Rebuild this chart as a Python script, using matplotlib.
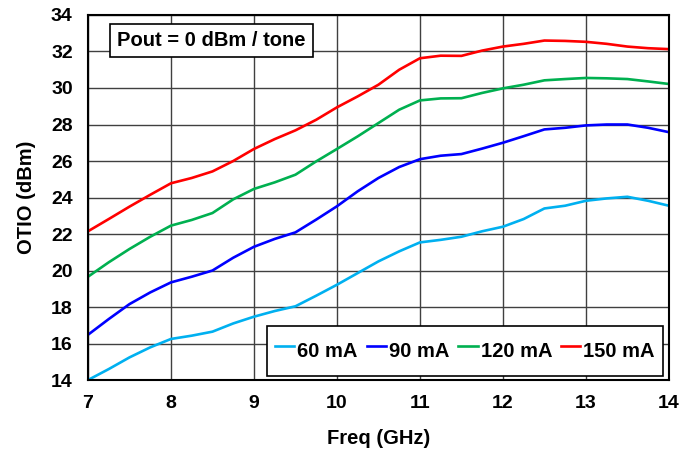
import matplotlib
matplotlib.use("Agg")
import matplotlib.pyplot as plt
import numpy as np

plt.rcParams['font.family'] = ['Liberation Sans', 'DejaVu Sans']
plt.rcParams['font.weight'] = 'bold'

# values, every 0.25 GHz
freq = np.arange(7, 14.01, 0.25)
otio_60 = [14.0, 14.6, 15.24, 15.79, 16.25, 16.43, 16.65, 17.1, 17.47, 17.78, 18.04, 18.62,
           19.22, 19.86, 20.5, 21.05, 21.54, 21.68, 21.85, 22.15, 22.4, 22.82, 23.4, 23.55,
           23.82, 23.95, 24.04, 23.82, 23.55]
otio_90 = [16.48, 17.34, 18.16, 18.8, 19.35, 19.66, 20.0, 20.7, 21.3, 21.73, 22.09, 22.79,
           23.52, 24.34, 25.07, 25.67, 26.1, 26.29, 26.38, 26.68, 27.0, 27.36, 27.73, 27.82,
           27.95, 28.0, 28.0, 27.82, 27.58]
otio_120 = [19.66, 20.45, 21.18, 21.85, 22.46, 22.77, 23.15, 23.9, 24.47, 24.83, 25.25, 25.98,
            26.66, 27.35, 28.08, 28.81, 29.32, 29.43, 29.44, 29.73, 29.98, 30.18, 30.42, 30.49,
            30.55, 30.53, 30.49, 30.36, 30.22]
otio_150 = [22.15, 22.82, 23.5, 24.15, 24.78, 25.07, 25.43, 26.0, 26.66, 27.2, 27.68, 28.26,
            28.94, 29.54, 30.18, 31.0, 31.63, 31.77, 31.76, 32.05, 32.27, 32.42, 32.6, 32.58,
            32.53, 32.42, 32.27, 32.18, 32.13]

labels = ['60 mA', '90 mA', '120 mA', '150 mA']
colors = ['#00B0F0', '#0000FF', '#00B050', '#FF0000']

fig = plt.figure(figsize=(6.99, 4.53), dpi=100)
ax = fig.add_axes([0.1259, 0.1611, 0.831, 0.8058])

for y, lab, c in zip([otio_60, otio_90, otio_120, otio_150], labels, colors):
    ax.plot(freq, y, color=c, linewidth=1.9, label=lab)

ax.set_xlim(7, 14)
ax.set_ylim(14, 34)
ax.set_xticks(np.arange(7, 15, 1))
ax.set_yticks(np.arange(14, 35, 2))
ax.grid(True, color='#404040', linewidth=1)
ax.set_axisbelow(True)
for s in ax.spines.values():
    s.set_linewidth(1.5)
    s.set_color('black')
ax.tick_params(length=0, labelsize=14, pad=11)
ax.set_xlabel('Freq (GHz)', fontsize=14.5, fontweight='bold', labelpad=12)
ax.set_ylabel('OTIO (dBm)', fontsize=14.5, fontweight='bold', labelpad=11)

ax.text(0.05, 0.93, 'Pout = 0 dBm / tone', transform=ax.transAxes, fontsize=14.5,
        fontweight='bold', va='center', ha='left',
        bbox=dict(boxstyle='square,pad=0.35', facecolor='white', edgecolor='black', linewidth=1.2))

leg = ax.legend(loc='lower right', ncol=4, fontsize=14.5, frameon=True, fancybox=False,
                edgecolor='black', framealpha=1, handlelength=0.95, handletextpad=0.15,
                columnspacing=0.45, borderpad=0.4, handleheight=2.2, borderaxespad=0,
                bbox_to_anchor=(0.9897, 0.011))
leg.get_frame().set_linewidth(1.2)

fig.savefig('out.png', dpi=100)
